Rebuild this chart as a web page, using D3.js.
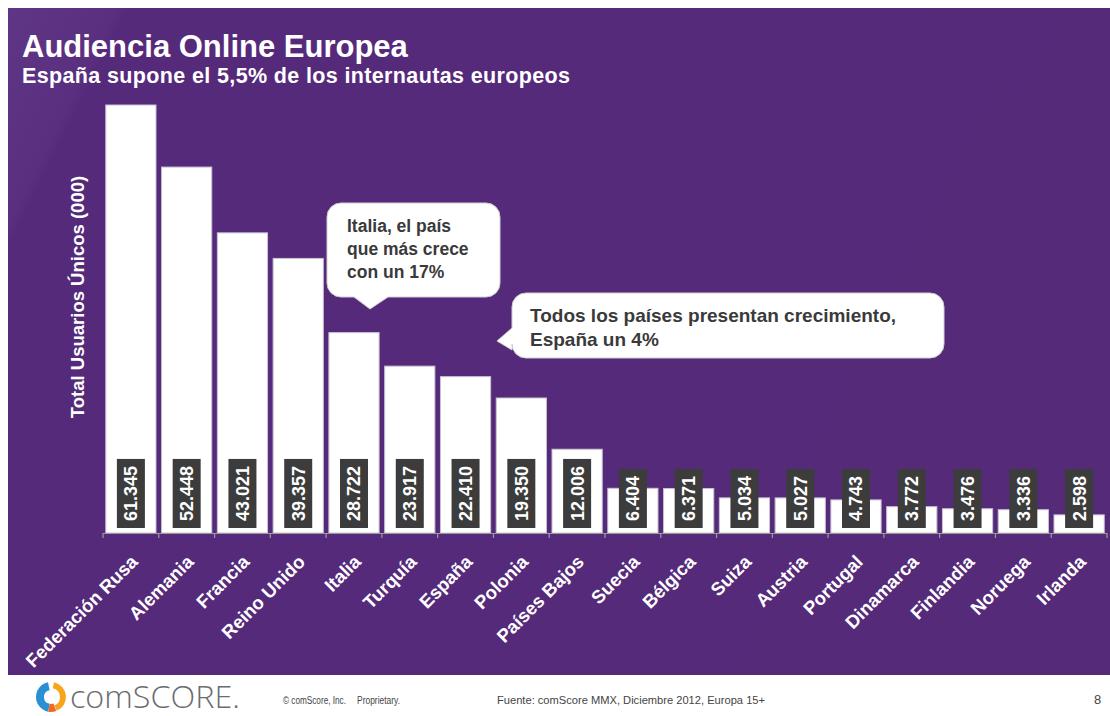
<!DOCTYPE html>
<html>
    <head>
        <meta charset="utf-8">
        <title>Audiencia Online Europea</title>
        <script src="https://cdn.jsdelivr.net/npm/d3@7"></script>
        <style>
            body { margin: 0; background: #fff; }
            text { font-family: "Liberation Sans", Arial, sans-serif; }
        </style>
    </head>
    <body>
        <svg id='mainsvg' width='1110' height='716' style="display:block;"></svg>
        <script>
            // data (miles de usuarios, Diciembre 2012)
            const countries = ["Federación Rusa", "Alemania", "Francia", "Reino Unido", "Italia", "Turquía",
                "España", "Polonia", "Países Bajos", "Suecia", "Bélgica", "Suiza", "Austria", "Portugal",
                "Dinamarca", "Finlandia", "Noruega", "Irlanda"];
            const usuarios = [61.345, 52.448, 43.021, 39.357, 28.722, 23.917, 22.410, 19.350, 12.006,
                6.404, 6.371, 5.034, 5.027, 4.743, 3.772, 3.476, 3.336, 2.598];
            const bubble1Lines = ["Italia, el país", "que más crece", "con un 17%"];
            const bubble2Lines = ["Todos los países presentan crecimiento,", "España un 4%"];

            const W = 1110, H = 716;
            const baseY = 533;
            const svg = d3.select('#mainsvg');

            // background
            const defs = svg.append("defs");
            const grad = defs.append("linearGradient").attr("id", "bg")
                .attr("x1", "0%").attr("y1", "0%").attr("x2", "100%").attr("y2", "30%");
            grad.append("stop").attr("offset", "0%").attr("stop-color", "#5f3586");
            grad.append("stop").attr("offset", "9%").attr("stop-color", "#5a2f80");
            grad.append("stop").attr("offset", "10%").attr("stop-color", "#562a7b");
            grad.append("stop").attr("offset", "100%").attr("stop-color", "#552a79");
            svg.append("rect").attr("x", 8).attr("y", 8).attr("width", W - 8).attr("height", 667)
                .attr("fill", "url(#bg)");

            // titles
            svg.append("text").attr("x", 22).attr("y", 57)
                .attr("fill", "#fff").attr("font-size", 31).attr("font-weight", "bold")
                .text("Audiencia Online Europea");
            svg.append("text").attr("x", 22).attr("y", 83)
                .attr("fill", "#fff").attr("font-size", 21.5).attr("font-weight", "bold")
                .attr("textLength", 548).attr("lengthAdjust", "spacing")
                .text("España supone el 5,5% de los internautas europeos");

            // scales
            const x = d3.scaleBand().domain(countries).range([103, 1107])
                .paddingInner(0.1).paddingOuter(0.05);
            const y = d3.scaleLinear().domain([0, d3.max(usuarios)]).range([baseY, 105]);
            const gap = (x.step() - x.bandwidth()) / 2;

            // bars
            const data = countries.map((c, i) => ({name: c, value: usuarios[i]}));
            svg.append("g").selectAll("rect")
                .data(data)
                .join("rect")
                .attr("x", d => x(d.name))
                .attr("y", d => y(d.value))
                .attr("width", x.bandwidth())
                .attr("height", d => baseY - y(d.value))
                .attr("fill", "#fff")
                .attr("stroke", "#c9c2d3")
                .attr("stroke-width", 1);

            // baseline + ticks
            const axis = svg.append("g").attr("stroke", "#9a9a9a").attr("stroke-width", 1.2);
            axis.append("line").attr("x1", 103).attr("x2", 1107).attr("y1", baseY + 0.5).attr("y2", baseY + 0.5);
            axis.selectAll("line.tick")
                .data(countries.concat(["__end"]))
                .join("line").attr("class", "tick")
                .attr("x1", (d, i) => i < countries.length ? x(d) - gap : x(countries[i - 1]) + x.bandwidth() + gap)
                .attr("x2", (d, i) => i < countries.length ? x(d) - gap : x(countries[i - 1]) + x.bandwidth() + gap)
                .attr("y1", baseY).attr("y2", baseY + 5);

            // value labels
            const fmt = d3.format(".3f");
            const vl = svg.append("g").selectAll("g")
                .data(data)
                .join("g")
                .attr("transform", d => `translate(${x(d.name) + x.bandwidth() / 2},521) rotate(-90)`);
            vl.append("rect").attr("fill", "#3c3c3c");
            vl.append("text")
                .attr("fill", "#fff").attr("font-size", 18).attr("font-weight", "bold")
                .attr("dy", "0.36em")
                .text(d => fmt(d.value));
            vl.each(function() {
                const g = d3.select(this);
                const len = g.select("text").node().getComputedTextLength();
                g.select("rect").attr("x", -7).attr("y", -14).attr("width", len + 14).attr("height", 28);
            });

            // x labels
            svg.append("g").selectAll("text")
                .data(countries)
                .join("text")
                .attr("transform", d => `translate(${x(d) + x.bandwidth() / 2 + 8},563) rotate(-45)`)
                .attr("text-anchor", "end")
                .attr("fill", "#fff").attr("font-size", 18.5).attr("font-weight", "bold")
                .text(d => d);

            // y title
            svg.append("text")
                .attr("transform", "translate(84,297) rotate(-90)")
                .attr("text-anchor", "middle")
                .attr("fill", "#fff").attr("font-size", 18.5).attr("font-weight", "bold")
                .text("Total Usuarios Únicos (000)");

            // callouts
            function bubble(x0, y0, x1, y1, r, tail) {
                const p = d3.path();
                p.moveTo(x0 + r, y0);
                p.lineTo(x1 - r, y0);
                p.arcTo(x1, y0, x1, y0 + r, r);
                p.lineTo(x1, y1 - r);
                p.arcTo(x1, y1, x1 - r, y1, r);
                if (tail.side === "bottom") {
                    p.lineTo(tail.b, y1);
                    p.lineTo(tail.tx, tail.ty);
                    p.lineTo(tail.a, y1);
                }
                p.lineTo(x0 + r, y1);
                p.arcTo(x0, y1, x0, y1 - r, r);
                if (tail.side === "left") {
                    p.lineTo(x0, tail.b);
                    p.lineTo(tail.tx, tail.ty);
                    p.lineTo(x0, tail.a);
                }
                p.lineTo(x0, y0 + r);
                p.arcTo(x0, y0, x0 + r, y0, r);
                p.closePath();
                return p.toString();
            }
            const callouts = svg.append("g");
            callouts.append("path")
                .attr("d", bubble(327, 203, 500, 297, 14, {side: "bottom", a: 354, b: 388, tx: 370, ty: 309}))
                .attr("fill", "#fff").attr("stroke", "#d0d0d0");
            callouts.append("g").selectAll("text")
                .data(bubble1Lines).join("text")
                .attr("x", 347).attr("y", (d, i) => 232 + i * 23)
                .attr("fill", "#3a3a3a").attr("font-size", 17.5).attr("font-weight", "bold")
                .text(d => d);
            callouts.append("path")
                .attr("d", bubble(512, 293, 944, 358, 14, {side: "left", a: 328, b: 350, tx: 497, ty: 341}))
                .attr("fill", "#fff").attr("stroke", "#d0d0d0");
            callouts.append("g").selectAll("text")
                .data(bubble2Lines).join("text")
                .attr("x", 530).attr("y", (d, i) => 322 + i * 24)
                .attr("fill", "#3a3a3a").attr("font-size", 19).attr("font-weight", "bold")
                .text(d => d);

            // footer: logo
            const logo = svg.append("g").attr("transform", "translate(51,697)");
            logo.append("path")
                .attr("d", d3.arc().innerRadius(7).outerRadius(15).startAngle(-2.95).endAngle(-0.2)())
                .attr("fill", "#2b8fd4");
            logo.append("path")
                .attr("d", d3.arc().innerRadius(9).outerRadius(15).startAngle(0.2).endAngle(2.75)())
                .attr("fill", "#f8a51c");
            logo.append("path")
                .attr("d", d3.arc().innerRadius(7).outerRadius(15).startAngle(-3.5).endAngle(-2.95)())
                .attr("fill", "#ee6a2a");
            svg.append("text").attr("x", 70).attr("y", 708)
                .attr("fill", "#6b6c70").attr("font-size", 32)
                .style("font-family", "'Open Sans', sans-serif").attr("font-weight", 300)
                .attr("textLength", 170).attr("lengthAdjust", "spacingAndGlyphs")
                .text("comSCORE.");
            svg.append("text").attr("x", 283).attr("y", 704)
                .attr("fill", "#444").attr("font-size", 10)
                .attr("textLength", 63).attr("lengthAdjust", "spacingAndGlyphs")
                .text("© comScore, Inc.");
            svg.append("text").attr("x", 357).attr("y", 704)
                .attr("fill", "#444").attr("font-size", 10)
                .attr("textLength", 43).attr("lengthAdjust", "spacingAndGlyphs")
                .text("Proprietary.");
            svg.append("text").attr("x", 497).attr("y", 704)
                .attr("fill", "#444").attr("font-size", 10.5)
                .attr("textLength", 268).attr("lengthAdjust", "spacingAndGlyphs")
                .text("Fuente: comScore MMX, Diciembre 2012, Europa 15+");
            svg.append("text").attr("x", 1094).attr("y", 704)
                .attr("fill", "#444").attr("font-size", 13)
                .text("8");
        </script>
    </body>
</html>
